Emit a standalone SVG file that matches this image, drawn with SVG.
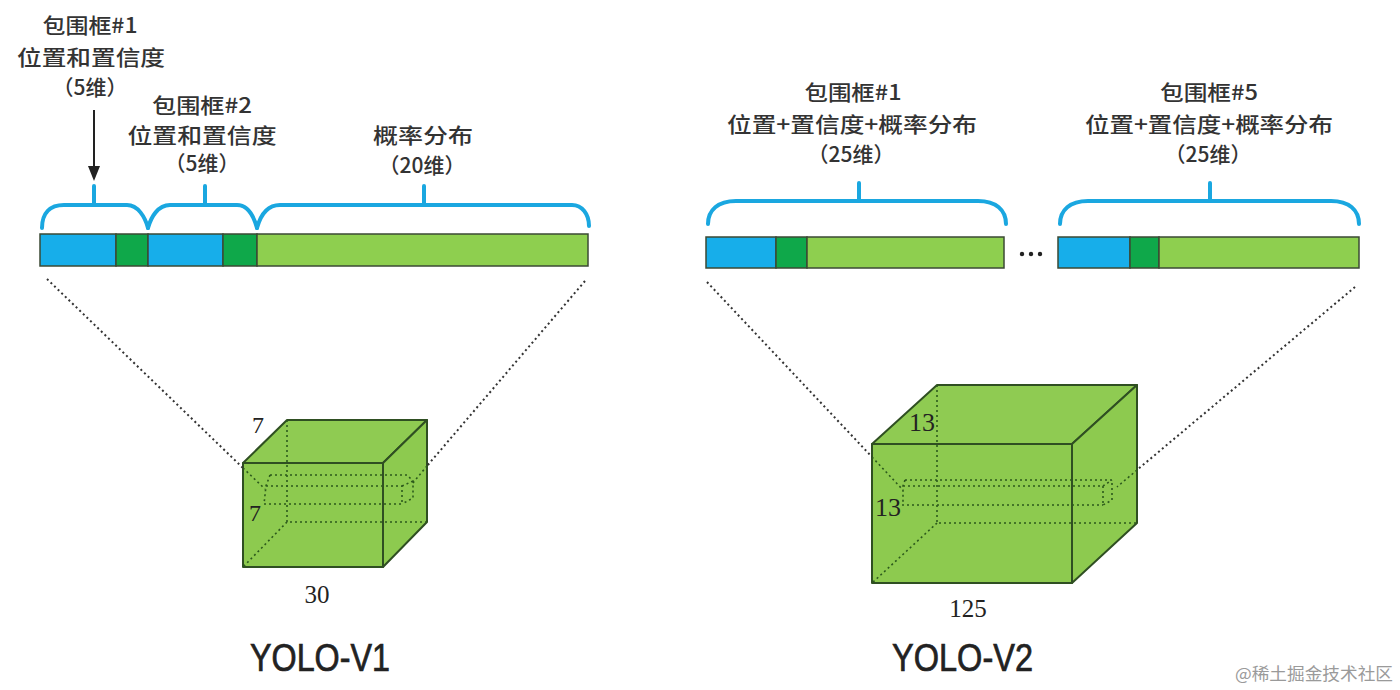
<svg xmlns="http://www.w3.org/2000/svg" width="1400" height="690" viewBox="0 0 1400 690">
<style>
.lbl{font-family:"Noto Sans CJK SC","Noto Sans",sans-serif;font-size:21px;font-weight:500;fill:#333;text-anchor:middle}
.num{font-family:"Liberation Serif",serif;fill:#222;text-anchor:middle}
.yolo{font-family:"Liberation Sans Narrow","Liberation Sans",sans-serif;font-size:38px;font-weight:normal;fill:#222;stroke:#222;stroke-width:0.7}
.brace{fill:none;stroke:#1aa7e0;stroke-width:4;stroke-linecap:round;stroke-linejoin:round}
.seg{stroke:#3b4a35;stroke-width:1.5}
.blue{fill:#17aeea}
.dg{fill:#0fa84a}
.lg{fill:#8ecf4f}
.face{fill:#8dca4f;stroke:#2f4f22;stroke-width:2;stroke-linejoin:round}
.top{fill:#8fcb52}
.hid{fill:none;stroke:#2c5a1c;stroke-width:1.6;stroke-dasharray:2 3}
.proj{fill:none;stroke:#333;stroke-width:2;stroke-dasharray:2 3}
</style>
<rect width="1400" height="690" fill="#fff"/>

<g id="v1-bar">
<rect class="seg blue" x="40" y="234" width="76" height="32"/>
<rect class="seg dg" x="116" y="234" width="32" height="32"/>
<rect class="seg blue" x="148" y="234" width="75" height="32"/>
<rect class="seg dg" x="223" y="234" width="34" height="32"/>
<rect class="seg lg" x="257" y="234" width="331" height="32"/>
</g>

<g id="v1-braces">
<path class="brace" d="M42,228 C42,213 50,205 64,205 L127,205 C138,205 145,217 148,228"/>
<path class="brace" d="M148,228 C151,217 158,205 170,205 L237,205 C248,205 254,217 257,228"/>
<path class="brace" d="M257,228 C260,217 266,205 280,205 L572,205 C582,205 589,214 589,226"/>
<path class="brace" d="M94,186 V205 M205,186 V205 M424,186 V205"/>
</g>

<g id="v1-label1">
<text class="lbl" x="90" y="33" textLength="95" lengthAdjust="spacingAndGlyphs">包围框#1</text>
<text class="lbl" x="91" y="65" textLength="148" lengthAdjust="spacingAndGlyphs">位置和置信度</text>
<text class="lbl" x="90" y="95">（5维）</text>
</g>
<g id="v1-label2">
<text class="lbl" x="202" y="113" textLength="100" lengthAdjust="spacingAndGlyphs">包围框#2</text>
<text class="lbl" x="202" y="143" textLength="149" lengthAdjust="spacingAndGlyphs">位置和置信度</text>
<text class="lbl" x="202" y="171">（5维）</text>
</g>
<g id="v1-label3">
<text class="lbl" x="423" y="143" textLength="100" lengthAdjust="spacingAndGlyphs">概率分布</text>
<text class="lbl" x="422" y="173">（20维）</text>
</g>

<g id="v2-bar1">
<rect class="seg blue" x="706" y="237" width="70" height="31"/>
<rect class="seg dg" x="776" y="237" width="31" height="31"/>
<rect class="seg lg" x="807" y="237" width="197" height="31"/>
</g>
<g id="v2-dots" fill="#222">
<circle cx="1022" cy="254" r="2.2"/><circle cx="1031" cy="254" r="2.2"/><circle cx="1040" cy="254" r="2.2"/>
</g>
<g id="v2-bar5">
<rect class="seg blue" x="1058" y="237" width="72" height="31"/>
<rect class="seg dg" x="1130" y="237" width="29" height="31"/>
<rect class="seg lg" x="1159" y="237" width="200" height="31"/>
</g>
<g id="v2-braces">
<path class="brace" d="M708,224 C708,210 718,201 736,201 L978,201 C996,201 1006,210 1006,224"/>
<path class="brace" d="M1060,224 C1060,210 1070,201 1088,201 L1331,201 C1349,201 1359,210 1359,224"/>
<path class="brace" d="M859,183 V201 M1210,183 V201"/>
</g>
<g id="v2-label1">
<text class="lbl" x="853" y="100" textLength="97" lengthAdjust="spacingAndGlyphs">包围框#1</text>
<text class="lbl" x="852" y="132" textLength="250" lengthAdjust="spacingAndGlyphs">位置+置信度+概率分布</text>
<text class="lbl" x="851" y="162">（25维）</text>
</g>
<g id="v2-label5">
<text class="lbl" x="1209" y="100" textLength="98" lengthAdjust="spacingAndGlyphs">包围框#5</text>
<text class="lbl" x="1209" y="132" textLength="248" lengthAdjust="spacingAndGlyphs">位置+置信度+概率分布</text>
<text class="lbl" x="1208" y="162">（25维）</text>
</g>

<g id="v1-cube">
<polygon class="face top" points="243,463 287,420 427,420 383,463"/>
<polygon class="face" points="383,463 427,420 427,522 383,567"/>
<rect class="face" x="243" y="463" width="140" height="104"/>
<path class="hid" d="M287,420 V522 H427 M287,522 L243,567"/>
<path class="hid" d="M270,475 H407 L413,481 V498 L402,504 M266,486 H402 V504 M264,504 H402 M270,475 L266,486 L264,504 M402,486 L413,481"/>
<text class="num" x="258" y="433" font-size="24">7</text>
<text class="num" x="255" y="521" font-size="24">7</text>
<text class="num" x="317" y="603" font-size="25">30</text>
</g>

<g id="v2-cube">
<polygon class="face top" points="872,444 937,385 1137,385 1072,444"/>
<polygon class="face" points="1072,444 1137,385 1137,523 1072,583"/>
<rect class="face" x="872" y="444" width="200" height="139"/>
<path class="hid" d="M937,385 V523 H1137 M937,523 L872,583"/>
<path class="hid" d="M905,480 H1112 V500 L1103,505 M903,486 H1103 V505 M902,505 H1103 M905,480 L903,486 V505 M1103,486 L1112,480"/>
<text class="num" x="922" y="431" font-size="26">13</text>
<text class="num" x="888" y="516" font-size="26">13</text>
<text class="num" x="968" y="617" font-size="25">125</text>
</g>

<g id="connectors">
<path d="M94,110 V168" stroke="#222" stroke-width="2" fill="none"/>
<polygon points="88,166 100,166 94,181" fill="#222"/>
<path class="proj" d="M47,279 L243,468"/>
<path class="proj" d="M585,281 L427,466"/>
<path class="proj" d="M707,282 L872,457"/>
<path class="proj" d="M1355,287 L1137,470"/>
<path class="hid" d="M243,468 L265,489 M427,466 L412,484 M872,457 L903,490 M1137,470 L1117,487"/>
</g>

<g id="titles">
<text class="yolo" x="250" y="671" textLength="140" lengthAdjust="spacingAndGlyphs">YOLO-V1</text>
<text class="yolo" x="892" y="671" textLength="141" lengthAdjust="spacingAndGlyphs">YOLO-V2</text>
<text x="1235" y="680" font-family="Noto Sans CJK SC,sans-serif" font-size="17" fill="#9a9a9a" textLength="158" lengthAdjust="spacingAndGlyphs">@稀土掘金技术社区</text>
</g>
</svg>
